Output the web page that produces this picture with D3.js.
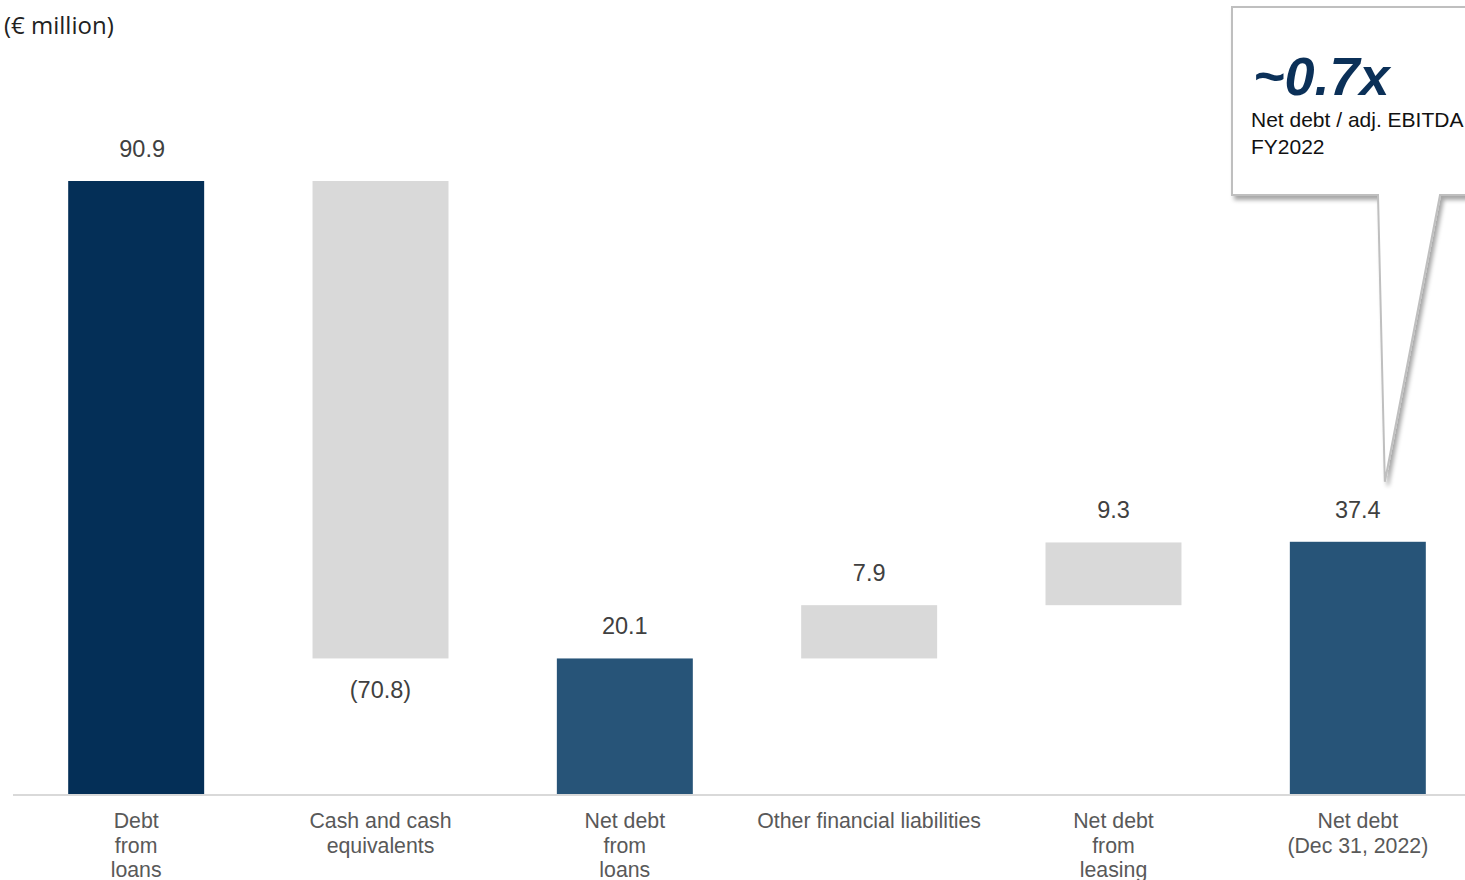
<!DOCTYPE html>
<html>
<head>
<meta charset="utf-8">
<script src="https://cdn.jsdelivr.net/npm/d3@7"></script>
<style>
  body { margin: 0; background: #fff; }
  text { font-family: Arial, "Liberation Sans", sans-serif; }
</style>
</head>
<body>
<div id="chart"></div>
<script>
// chart data
const categories = [
  ['Debt', 'from', 'loans'],
  ['Cash and cash', 'equivalents'],
  ['Net debt', 'from', 'loans'],
  ['Other financial liabilities'],
  ['Net debt', 'from', 'leasing'],
  ['Net debt', '(Dec 31, 2022)']
]
const values = [90.9, -70.8, 20.1, 7.9, 9.3, 37.4]
const barTypes = ['start', 'delta', 'total', 'delta', 'delta', 'total']
const valueLabels = ['90.9', '(70.8)', '20.1', '7.9', '9.3', '37.4']
const unitLabel = '(€ million)'
const calloutValue = '~0.7x'
const calloutLines = ['Net debt / adj. EBITDA', 'FY2022']

const width = 1465
const height = 880

const svg = d3.select('#chart')
  .append('svg')
    .attr('width', width)
    .attr('height', height)

const defs = svg.append('defs')
const shadow = defs.append('filter')
    .attr('id', 'shadow')
    .attr('x', '-10%').attr('y', '-10%')
    .attr('width', '130%').attr('height', '130%')
shadow.append('feDropShadow')
    .attr('dx', 3).attr('dy', 4)
    .attr('stdDeviation', 2)
    .attr('flood-color', '#000')
    .attr('flood-opacity', 0.35)

// waterfall: running start / end for each bar
let running = 0
const bars = values.map((v, i) => {
  let y0, y1
  if (barTypes[i] === 'delta') {
    y0 = running
    y1 = running + v
    running = y1
  } else {
    y0 = 0
    y1 = v
    running = v
  }
  return { key: i, value: v, type: barTypes[i], y0, y1, label: valueLabels[i], cat: categories[i] }
})

const xScale = d3.scaleBand()
  .domain(bars.map(d => d.key))
  .range([14, 1480])
  .paddingInner(0.4435)
  .paddingOuter(0.2218)

const yScale = d3.scaleLinear()
  .domain([0, 90.9])
  .range([794, 181])

const fillScale = d3.scaleOrdinal()
  .domain(['start', 'delta', 'total'])
  .range(['#042f57', '#d9d9d9', '#275478'])

// bars
svg.selectAll('rect.bar')
  .data(bars)
  .enter()
  .append('rect')
    .attr('class', 'bar')
    .attr('x', d => xScale(d.key))
    .attr('width', xScale.bandwidth())
    .attr('y', d => yScale(Math.max(d.y0, d.y1)))
    .attr('height', d => Math.abs(yScale(d.y0) - yScale(d.y1)))
    .style('fill', d => fillScale(d.type))

// baseline
svg.append('line')
  .attr('x1', 13).attr('x2', width)
  .attr('y1', yScale(0) + 1).attr('y2', yScale(0) + 1)
  .style('stroke', '#d9d9d9')
  .style('stroke-width', 2)

// value labels
svg.selectAll('text.value')
  .data(bars)
  .enter()
  .append('text')
    .attr('class', 'value')
    .attr('x', d => xScale(d.key) + xScale.bandwidth() / 2 + (d.key === 0 ? 6 : 0))
    .attr('y', d => d.value < 0
      ? yScale(Math.min(d.y0, d.y1)) + 40
      : yScale(Math.max(d.y0, d.y1)) - 24)
    .attr('text-anchor', 'middle')
    .style('font-size', '23.5px')
    .style('fill', '#404040')
    .text(d => d.label)

// category labels
const catText = svg.selectAll('text.cat')
  .data(bars)
  .enter()
  .append('text')
    .attr('class', 'cat')
    .attr('text-anchor', 'middle')
    .attr('y', 828)
    .style('font-size', '21.3px')
    .style('fill', '#595959')

catText.selectAll('tspan')
  .data(d => d.cat.map(line => ({ line, x: xScale(d.key) + xScale.bandwidth() / 2 })))
  .enter()
  .append('tspan')
    .attr('x', d => d.x)
    .attr('dy', (d, i) => i === 0 ? 0 : 24.5)
    .text(d => d.line)

// unit label
svg.append('text')
  .attr('x', 4).attr('y', 34)
  .style('font-family', '"Open Sans", sans-serif')
  .style('font-size', '24px')
  .style('fill', '#222')
  .text(unitLabel)

// callout with pointer to the last bar
const last = bars[bars.length - 1]
const tipX = xScale(last.key) + xScale.bandwidth() / 2 + 27
const tipY = yScale(last.y1) - 60
const box = { x: 1232, y: 7, w: 250, h: 188 }
const calloutPath = d3.path()
calloutPath.moveTo(box.x, box.y)
calloutPath.lineTo(box.x + box.w, box.y)
calloutPath.lineTo(box.x + box.w, box.y + box.h)
calloutPath.lineTo(1440, box.y + box.h)
calloutPath.lineTo(tipX, tipY)
calloutPath.lineTo(1378, box.y + box.h)
calloutPath.lineTo(box.x, box.y + box.h)
calloutPath.closePath()

svg.append('path')
  .attr('d', calloutPath.toString())
  .style('fill', '#fff')
  .style('stroke', '#bfbfbf')
  .style('stroke-width', 2)
  .attr('filter', 'url(#shadow)')

svg.append('text')
  .attr('x', 1253).attr('y', 95)
  .style('font-size', '54px')
  .style('font-weight', 'bold')
  .style('font-style', 'italic')
  .style('fill', '#0b3058')
  .text(calloutValue)

svg.selectAll('text.callout-line')
  .data(calloutLines)
  .enter()
  .append('text')
    .attr('class', 'callout-line')
    .attr('x', 1251)
    .attr('y', (d, i) => 127 + i * 27)
    .style('font-size', '21px')
    .style('fill', '#111')
    .text(d => d)
</script>
</body>
</html>
